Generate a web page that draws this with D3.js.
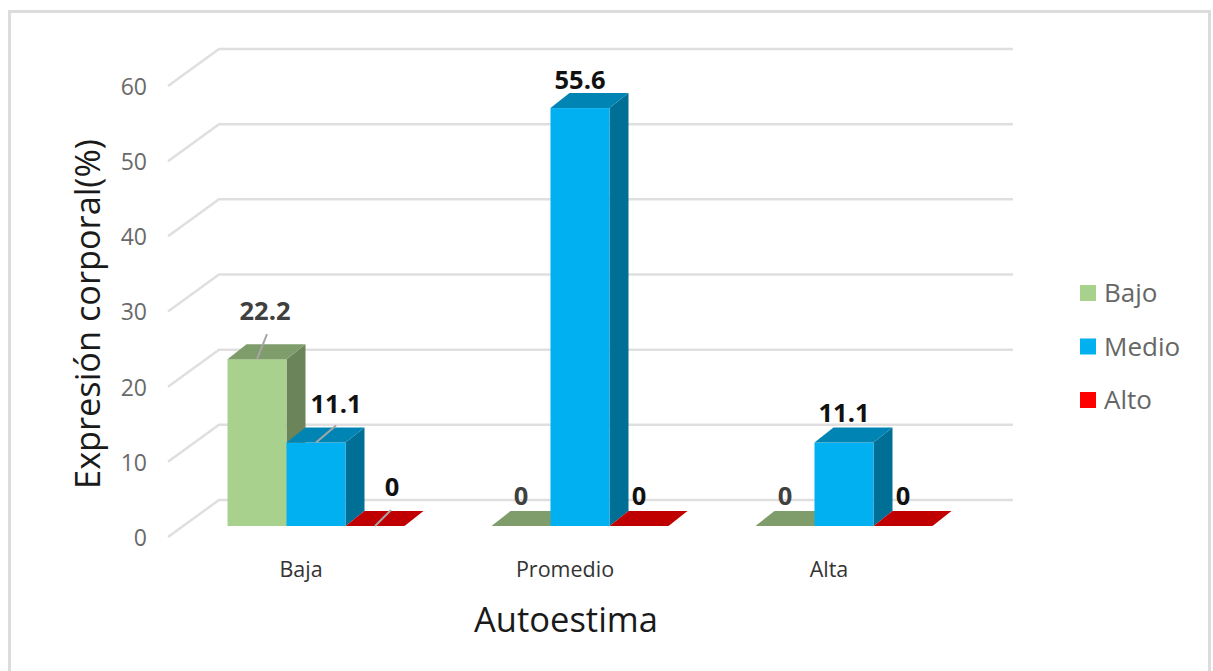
<!DOCTYPE html>
<html>
<head>
<meta charset="utf-8">
<script src="https://cdn.jsdelivr.net/npm/d3@7"></script>
<style>
  html, body { margin: 0; padding: 0; background: #fff; }
  svg { display: block; }
  text { font-family: "Open Sans", "Noto Sans", sans-serif; }
</style>
</head>
<body>
<svg id="chart" width="1213" height="671"></svg>
<script>
var categories = ["Baja", "Promedio", "Alta"];
var seriesNames = ["Bajo", "Medio", "Alto"];
var bajo = [22.2, 0, 0];
var medio = [11.1, 55.6, 11.1];
var alto = [0, 0, 0];
var yTicks = [0, 10, 20, 30, 40, 50, 60];

var values = [bajo, medio, alto];
var front = ["#a9d18e", "#00b0f0", "#ff0000"];
var topFace = ["#7f9d6b", "#0084b4", "#c00000"];
var sideFace = ["#6b8459", "#006f96", "#a00000"];
var labelColor = ["#404040", "#111111", "#111111"];

var svg = d3.select("#chart");

// frame
svg.append("rect")
  .attr("x", 9.5).attr("y", 11.5)
  .attr("width", 1200).attr("height", 670)
  .attr("fill", "#fff")
  .attr("stroke", "#dcdcdc")
  .attr("stroke-width", 3);

var y = d3.scaleLinear().domain([0, 60]).range([526, 75]);
var x = d3.scaleBand().domain(categories).range([168, 960]);
var inner = d3.scaleBand().domain(d3.range(3)).range([0, 177]);

// the floor runs from the axis (front) to the wall (back), bars stand inside it
var wallDx = 51, wallDy = -26, frontDy = 11;
var barShift = 16, depthX = 19, depthY = -15;

// walls
var grid = svg.append("g").attr("fill", "none").attr("stroke", "#dfdfdf").attr("stroke-width", 2.5);
yTicks.forEach(function(t) {
  grid.append("path").attr("d",
    "M168," + (y(t) + frontDy) + "L219," + (y(t) + wallDy) + "L1013," + (y(t) + wallDy));
});

// y axis
var yAxis = svg.append("g")
  .attr("transform", "translate(147," + (frontDy + 1) + ")")
  .call(d3.axisLeft(y).tickValues(yTicks).tickSize(0).tickPadding(0));
yAxis.select(".domain").remove();
yAxis.selectAll("text").attr("font-size", 23).attr("fill", "#6a6a6a").attr("font-family", "Open Sans");

// x axis
var xAxis = svg.append("g")
  .attr("transform", "translate(1,562)")
  .call(d3.axisBottom(x).tickSize(0).tickPadding(0));
xAxis.select(".domain").remove();
xAxis.selectAll("text").attr("font-size", 21.5).attr("fill", "#333").attr("font-family", "Open Sans");

function barX(c, s) {
  return x(c) + (x.bandwidth() - inner.range()[1]) / 2 + inner(s) + barShift;
}

// zero bars first so the taller neighbours sit over them
var marks = [];
categories.forEach(function(c, i) {
  seriesNames.forEach(function(n, s) {
    marks.push({cat: c, s: s, v: values[s][i]});
  });
});

var bars = svg.append("g");
marks.forEach(function(d) {
  var x0 = barX(d.cat, d.s), w = inner.bandwidth(), t = y(d.v), b = y(0);
  var g = bars.append("g");
  if (d.v > 0) {
    g.append("path").attr("fill", sideFace[d.s]).attr("d",
      "M" + (x0 + w) + "," + t + "l" + depthX + "," + depthY + "V" + (b + depthY) + "L" + (x0 + w) + "," + b + "Z");
    g.append("rect").attr("x", x0).attr("y", t).attr("width", w).attr("height", b - t).attr("fill", front[d.s]);
  }
  g.append("path").attr("fill", topFace[d.s]).attr("d",
    "M" + x0 + "," + t + "l" + depthX + "," + depthY + "h" + w + "l" + (-depthX) + "," + (-depthY) + "Z");
});

// hand-moved labels in the first group have leader lines
var moved = {
  "Baja-0": {dx: 8, dy: -18, lx: 10, ly: -25},
  "Baja-1": {dx: 20, dy: -9, lx: 20, ly: -17},
  "Baja-2": {dx: 17, dy: -9, lx: 16, ly: -16},
  "Promedio-1": {dx: 0, dy: 2}
};

marks.forEach(function(d) {
  var cx = barX(d.cat, d.s) + inner.bandwidth() / 2, t = y(d.v);
  var m = moved[d.cat + "-" + d.s] || {dx: 0, dy: 0};
  if (m.lx) {
    svg.append("line")
      .attr("x1", cx).attr("y1", t)
      .attr("x2", cx + m.lx).attr("y2", t + m.ly)
      .attr("stroke", "#a6a6a6").attr("stroke-width", 2);
  }
  svg.append("text")
    .attr("x", cx + m.dx)
    .attr("y", t - 30 + m.dy)
    .attr("dy", "0.36em")
    .attr("text-anchor", "middle")
    .attr("font-size", 25.5)
    .attr("font-weight", 700)
    .attr("fill", d.v > 0 ? labelColor[d.s] : (d.s == 0 ? "#404040" : "#111"))
    .text(d.v);
});

// legend
var legY = d3.scalePoint().domain(seriesNames).range([293, 400]);
seriesNames.forEach(function(n, s) {
  svg.append("rect").attr("x", 1080).attr("y", legY(n) - 8).attr("width", 16).attr("height", 16).attr("fill", front[s]);
  svg.append("text").attr("x", 1104).attr("y", legY(n)).attr("dy", "0.36em")
    .attr("font-size", 26).attr("fill", "#666").text(n);
});

// axis titles
svg.append("text")
  .attr("x", 566).attr("y", 620).attr("dy", "0.36em")
  .attr("text-anchor", "middle").attr("font-size", 34.5).attr("fill", "#1a1a1a")
  .text("Autoestima");
svg.append("text")
  .attr("transform", "translate(88,314) rotate(-90)")
  .attr("dy", "0.36em")
  .attr("text-anchor", "middle").attr("font-size", 34.3).attr("fill", "#1a1a1a")
  .text("Expresión corporal(%)");
</script>
</body>
</html>
